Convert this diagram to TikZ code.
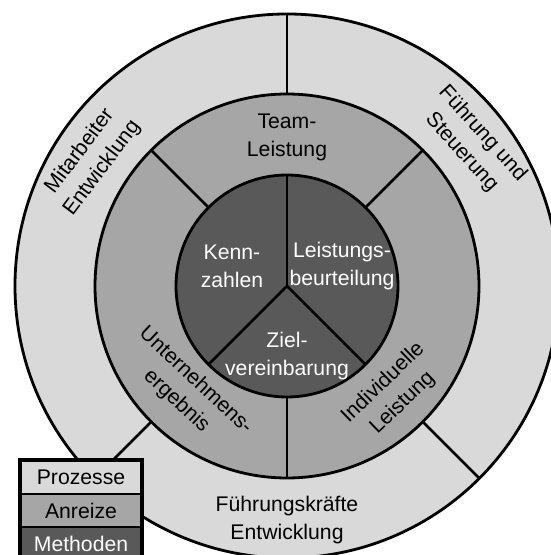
\documentclass[tikz,border=0pt]{standalone}
\usepackage{fontspec}
\setmainfont{Liberation Sans}
\definecolor{lightg}{HTML}{D9D9D9}
\definecolor{midg}{HTML}{A6A6A6}
\definecolor{darkg}{HTML}{595959}
\begin{document}
\begin{tikzpicture}[x=0.5pt,y=0.5pt, line width=1.4pt,
  lbl/.style={align=center, font=\fontsize{10.6}{14}\selectfont, inner sep=0pt},
  wlbl/.style={lbl, text=white},
  legrow/.style={draw, line width=1.4pt, minimum width=60pt, minimum height=16.5pt, inner sep=0pt, font=\fontsize{10.6}{14}\selectfont}]
\useasboundingbox (-287,-269) rectangle (263,286);
\fill[white] (-287,-269) rectangle (263,286);
\coordinate (c) at (0,0);
% rings
\draw[fill=lightg] (c) circle (136pt);
\draw[fill=midg] (c) circle (96pt);
\draw[fill=darkg] (c) circle (55.5pt);
% dividers
\foreach \a in {90,225,315} \draw (\a:192) -- (\a:272);
\foreach \a in {45,135,270} \draw (\a:111) -- (\a:192);
\foreach \a in {90,225,315} \draw (c) -- (\a:111);
% inner labels
\node[wlbl] (kenn) at (-55,20) {Kenn-\\zahlen};
\node[wlbl] (lb) at (55,20) {Leistungs-\\beurteilung};
\node[wlbl] (ziel) at (0,-70) {Ziel-\\vereinbarung};
% middle labels
\node[lbl] (team) at (0,149) {Team-\\Leistung};
\node[lbl, rotate=-43] (unt) at (-101,-105) {Unternehmens-\\ergebnis};
\node[lbl, rotate=44] (ind) at (106,-107) {Individuelle\\Leistung};
% outer labels
\node[lbl, rotate=53] (mit) at (-196,126) {Mitarbeiter\\Entwicklung};
\node[lbl, rotate=-48] (fst) at (185,143) {Führung und\\Steuerung};
\node[lbl] (fke) at (0,-234) {Führungskräfte\\Entwicklung};
% legend
\node[legrow, fill=lightg] (lp) at (-206,-191.5) {Prozesse};
\node[legrow, fill=midg] (la) at (-206,-224.5) {Anreize};
\node[legrow, fill=darkg, text=white] (lm) at (-206,-257.5) {Methoden};
\draw[line width=1.8pt] (lp.north west) rectangle (lm.south east);
\end{tikzpicture}
\end{document}
